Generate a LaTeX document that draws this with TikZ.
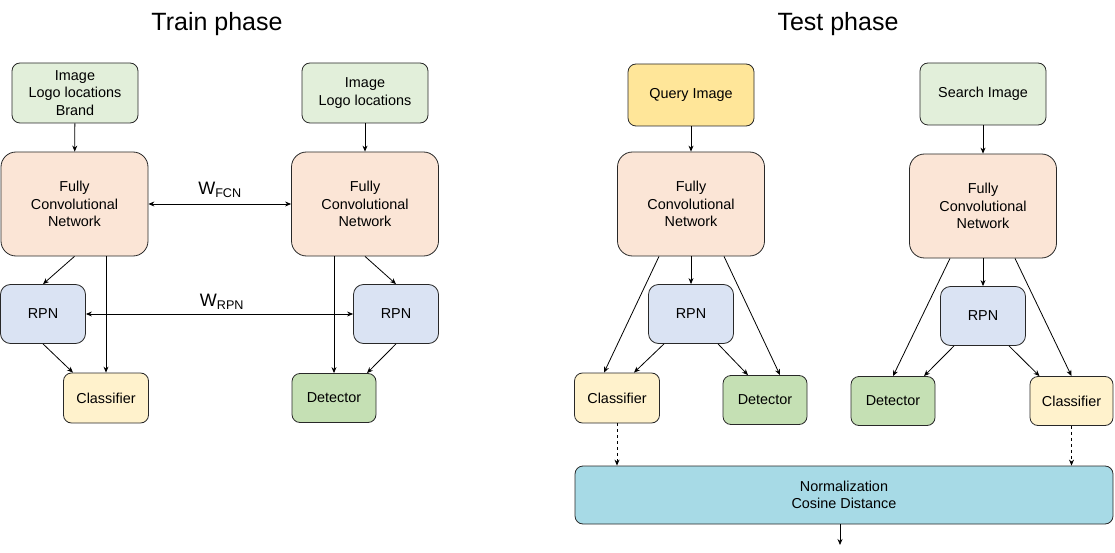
\documentclass[tikz,border=0pt]{standalone}
\usepackage{fontspec}
\setmainfont{Liberation Sans}
\usepackage{tikz}
\usetikzlibrary{arrows.meta}
\definecolor{box_border}{RGB}{40,40,40}
\definecolor{input_green}{RGB}{226,239,218}
\definecolor{query_yellow}{RGB}{255,230,153}
\definecolor{fcn_orange}{RGB}{251,229,214}
\definecolor{rpn_blue}{RGB}{218,227,243}
\definecolor{cls_yellow}{RGB}{255,242,204}
\definecolor{det_green}{RGB}{197,224,180}
\definecolor{norm_blue}{RGB}{167,218,230}

\begin{document}
\begin{tikzpicture}[->,>={Stealth[length=6pt,width=5pt]},line width=0.8pt,x=1pt,y=-1pt]
    \tikzstyle{box}=[draw=box_border, rectangle, rounded corners=8pt, align=center, text=black, font=\fontsize{14.4}{17.5}\selectfont]
    \tikzstyle{input}=[box, fill=input_green, minimum width=126pt, minimum height=60pt]
    \tikzstyle{fcn}=[box, fill=fcn_orange, rounded corners=15pt, minimum width=147pt, minimum height=104pt]
    \tikzstyle{rpn}=[box, fill=rpn_blue, rounded corners=10pt, minimum width=85pt, minimum height=59pt]
    \tikzstyle{cls}=[box, fill=cls_yellow, minimum width=85pt, minimum height=50pt]
    \tikzstyle{det}=[box, fill=det_green, minimum width=84pt, minimum height=49pt]
    \tikzstyle{title}=[font=\fontsize{25}{30}\selectfont]
    \tikzstyle{weight}=[font=\fontsize{18}{20}\selectfont]

    \useasboundingbox (0,0) rectangle (1115,553);

    % train phase
    \node[title] (train) at (217,24) {Train phase};
    \node[input] (inA) at (75,93)  {Image\\Logo locations\\Brand};
    \node[input] (inB) at (365,93) {Image\\Logo locations};
    \node[fcn] (fcnA) at (74.5,204) {Fully\\Convolutional\\Network};
    \node[fcn] (fcnB) at (365,204)  {Fully\\Convolutional\\Network};
    \node[rpn] (rpnA) at (43,314)  {RPN};
    \node[rpn] (rpnB) at (396,314) {RPN};
    \node[cls] (clsA) at (106,398) {Classifier};
    \node[det] (detA) at (334,398) {Detector};
    \node[weight] (wfcn) at (220,190) {W\textsubscript{FCN}};
    \node[weight] (wrpn) at (222,302) {W\textsubscript{RPN}};

    % test phase
    \node[title] (test) at (838,24) {Test phase};
    \node[input, fill=query_yellow, minimum height=62pt] (qry) at (691,95) {Query Image};
    \node[input, minimum height=62pt] (srch) at (983,94) {Search Image};
    \node[fcn] (fcnQ) at (691,204) {Fully\\Convolutional\\Network};
    \node[fcn] (fcnS) at (983,206) {Fully\\Convolutional\\Network};
    \node[rpn] (rpnQ) at (691,314) {RPN};
    \node[rpn] (rpnS) at (983,316) {RPN};
    \node[cls] (clsQ) at (617,398) {Classifier};
    \node[det] (detQ) at (765,400) {Detector};
    \node[det] (detS) at (893,401) {Detector};
    \node[cls, minimum width=83pt, minimum height=49pt] (clsS) at (1071.5,401) {Classifier};
    \node[box, fill=norm_blue, minimum width=538pt, minimum height=58pt] (norm) at (844,495) {Normalization\\Cosine Distance};
    \coordinate (out) at (840,545);

    \path
     (inA) edge (fcnA)
     (inB) edge (fcnB)
     (fcnA.east) edge[<->] (fcnB.west)
     (rpnA.east) edge[<->] (rpnB.west)
     (fcnA.south) edge (rpnA.north)
     (fcnA.south -| clsA.north) edge (clsA.north)
     (rpnA.south) edge ([xshift=-33pt]clsA.north)
     (fcnB.south) edge (rpnB.north)
     (fcnB.south -| detA.north) edge (detA.north)
     (rpnB.south) edge ([xshift=33pt]detA.north)
     ;
    \path
     (qry) edge (fcnQ)
     (srch) edge (fcnS)
     (fcnQ) edge (rpnQ)
     (fcnS) edge (rpnS)
     ([xshift=-32pt]fcnQ.south) edge ([xshift=-13pt]clsQ.north)
     ([xshift=33pt]fcnQ.south) edge ([xshift=15pt]detQ.north)
     ([xshift=-27pt]rpnQ.south) edge ([xshift=17pt]clsQ.north)
     ([xshift=27pt]rpnQ.south) edge ([xshift=-17pt]detQ.north)
     ([xshift=-33pt]fcnS.south) edge (detS.north)
     ([xshift=32pt]fcnS.south) edge (clsS.north)
     ([xshift=-29pt]rpnS.south) edge ([xshift=31pt]detS.north)
     ([xshift=26pt]rpnS.south) edge ([xshift=-32pt]clsS.north)
     (clsQ.south) edge[dashed] (clsQ.south |- norm.north)
     (clsS.south) edge[dashed] (clsS.south |- norm.north)
     (norm.south -| out) edge (out)
     ;
\end{tikzpicture}
\end{document}
